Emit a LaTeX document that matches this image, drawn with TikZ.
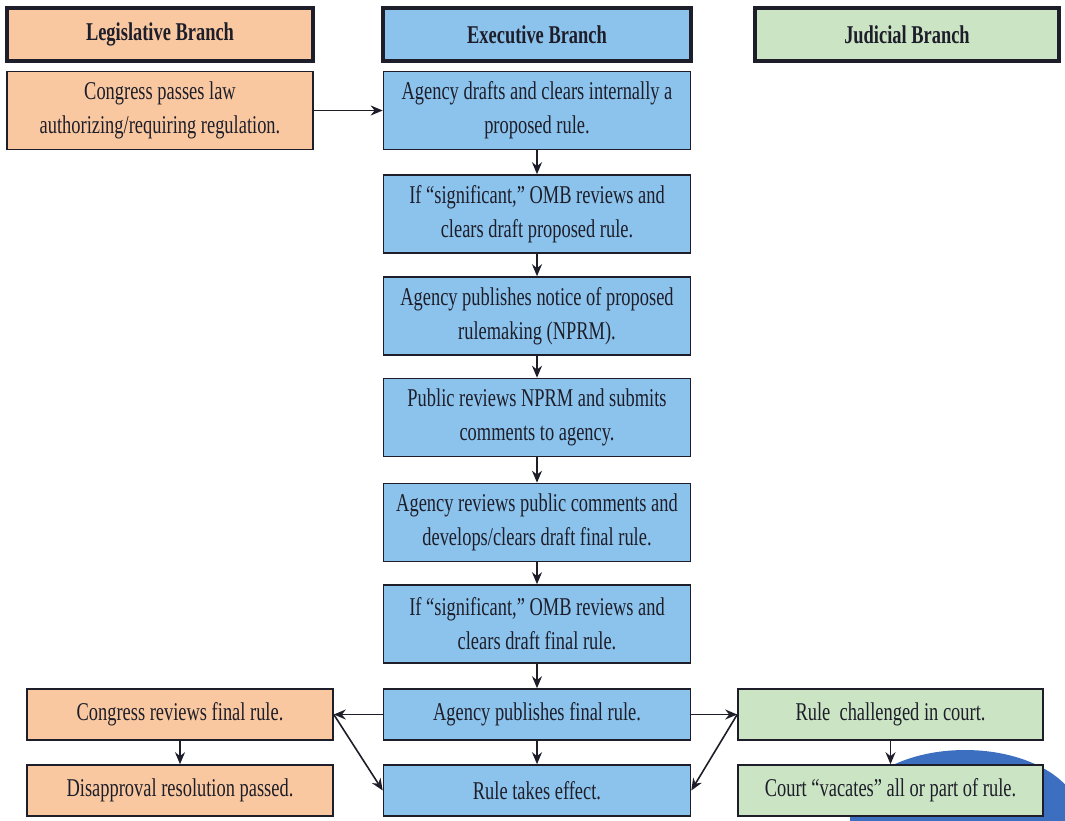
\documentclass[tikz,border=0pt]{standalone}
\usepackage{fontspec}
\setmainfont{Liberation Serif}[FakeStretch=0.72]
\usetikzlibrary{arrows.meta}
\definecolor{leg}{HTML}{F9C8A0}
\definecolor{exe}{HTML}{8CC3EC}
\definecolor{jud}{HTML}{CBE5C4}
\definecolor{logo}{HTML}{3D6FC0}
\definecolor{ink}{HTML}{1E1E2A}

\begin{document}
\begin{tikzpicture}[x=0.5pt, y=-0.5pt, font=\fontsize{12.8}{17}\selectfont, text=ink,
  hdr/.style={draw=ink, line width=1.7pt, minimum height=26.5pt, font=\fontsize{12.8}{17}\selectfont\bfseries},
  stepbox/.style={draw=ink, line width=0.8pt, minimum height=39pt, align=center, inner sep=2pt},
  onebox/.style={stepbox, minimum height=25.5pt},
  arr/.style={-{Stealth[length=6pt,width=5pt]}, line width=0.8pt, draw=ink}]
\useasboundingbox (0,0) rectangle (1065,820);
% logo piece behind the last judicial box
\begin{scope}
  \clip (0,0) rectangle (1065,820);
  \fill[logo] (965,818) ellipse [x radius=115, y radius=68];
\end{scope}
% branch headers
\node[hdr, fill=leg, minimum width=153pt] (leghdr) at (160,34.5) {Legislative Branch};
\node[hdr, fill=exe, minimum width=154pt] (exehdr) at (537,34.5) {Executive Branch};
\node[hdr, fill=jud, minimum width=152pt] (judhdr) at (907,34.5) {Judicial Branch};
% legislative start
\node[stepbox, fill=leg, minimum width=153pt] (law) at (160,110.5) {Congress passes law\\authorizing/requiring regulation.};
% executive steps
\foreach \n/\y/\t in {drafts/110.5/{Agency drafts and clears internally a\\proposed rule.},
    sigprop/214/{If ``significant,'' OMB reviews and\\clears draft proposed rule.},
    notice/316/{Agency publishes notice of proposed\\rulemaking (NPRM).},
    public/417.5/{Public reviews NPRM and submits\\comments to agency.},
    reviews/522.5/{Agency reviews public comments and\\develops/clears draft final rule.},
    sigfin/624/{If ``significant,'' OMB reviews and\\clears draft final rule.}}
  \node[stepbox, fill=exe, minimum width=153.5pt] (\n) at (537,\y) {\t};
\node[onebox, fill=exe, minimum width=153.5pt] (publish) at (537,714.5) {Agency publishes final rule.};
\node[onebox, fill=exe, minimum width=153.5pt] (effect) at (537,790.5) {Rule takes effect.};
% congress and courts after publication
\node[onebox, fill=leg, minimum width=153pt] (congrev) at (180,714.5) {Congress reviews final rule.};
\node[onebox, fill=leg, minimum width=153pt] (disap) at (180,790.5) {Disapproval resolution passed.};
\node[onebox, fill=jud, minimum width=152.5pt] (challenge) at (890.5,714.5) {Rule\ \ challenged in court.};
\node[onebox, fill=jud, minimum width=152.5pt] (vacate) at (890.5,790.5) {Court ``vacates'' all or part of rule.};
% connectors
\draw[arr] (law) -- (drafts);
\foreach \a/\b in {drafts/sigprop, sigprop/notice, notice/public, public/reviews,
    reviews/sigfin, sigfin/publish, publish/effect}
  \draw[arr] (\a) -- (\b);
\draw[arr] (publish) -- (congrev);
\draw[arr] (congrev.east) -- (effect.west);
\draw[arr] (congrev) -- (disap);
\draw[arr] (publish) -- (challenge);
\draw[arr] (challenge.west) -- (effect.east);
\draw[arr] (challenge) -- (vacate);
\end{tikzpicture}
\end{document}
